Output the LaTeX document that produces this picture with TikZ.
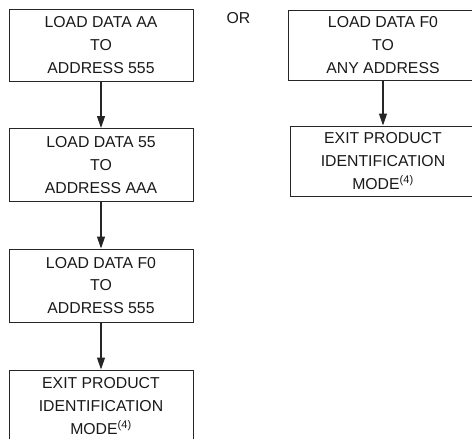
\documentclass[tikz,border=0pt]{standalone}
\usepackage{fontspec}
\setmainfont{Liberation Sans}
\usetikzlibrary{arrows.meta}
\begin{document}
\begin{tikzpicture}[x=1pt,y=-1pt,
  flowbox/.style={draw=black!85,line width=1pt,rectangle,align=center,
    inner sep=0pt,text=black!90,
    font=\fontsize{15.8}{22.7}\selectfont},
  arr/.style={draw=black!85,line width=1.2pt,-{Triangle[length=12pt,width=8pt]}}]
\useasboundingbox (0,0) rectangle (472,439);
\clip (0,0) rectangle (472,439);
\node[flowbox,minimum width=184pt,minimum height=72pt] (L1) at (101,45)
  {LOAD DATA AA\\TO\\ADDRESS 555};
\node[flowbox,minimum width=184pt,minimum height=73pt] (L2) at (101,165)
  {LOAD DATA 55\\TO\\ADDRESS AAA};
\node[flowbox,minimum width=184pt,minimum height=73pt] (L3) at (101,285.5)
  {LOAD DATA F0\\TO\\ADDRESS 555};
\node[flowbox,minimum width=184pt,minimum height=72pt] (L4) at (101,406)
  {EXIT PRODUCT\\IDENTIFICATION\\MODE\textsuperscript{(4)}};
\node[flowbox,minimum width=190pt,minimum height=70pt] (R1) at (383,45)
  {LOAD DATA F0\\TO\\ANY ADDRESS};
\node[flowbox,minimum width=186pt,minimum height=70pt] (R2) at (383,161)
  {EXIT PRODUCT\\IDENTIFICATION\\MODE\textsuperscript{(4)}};
\node[text=black!90,font=\fontsize{15.8}{18}\selectfont,inner sep=0pt] (or) at (238.5,18) {OR};
\draw[arr] (L1.south) -- (L2.north);
\draw[arr] (L2.south) -- (L3.north);
\draw[arr] (L3.south) -- (L4.north);
\draw[arr] (R1.south) -- (R2.north);
\end{tikzpicture}
\end{document}
